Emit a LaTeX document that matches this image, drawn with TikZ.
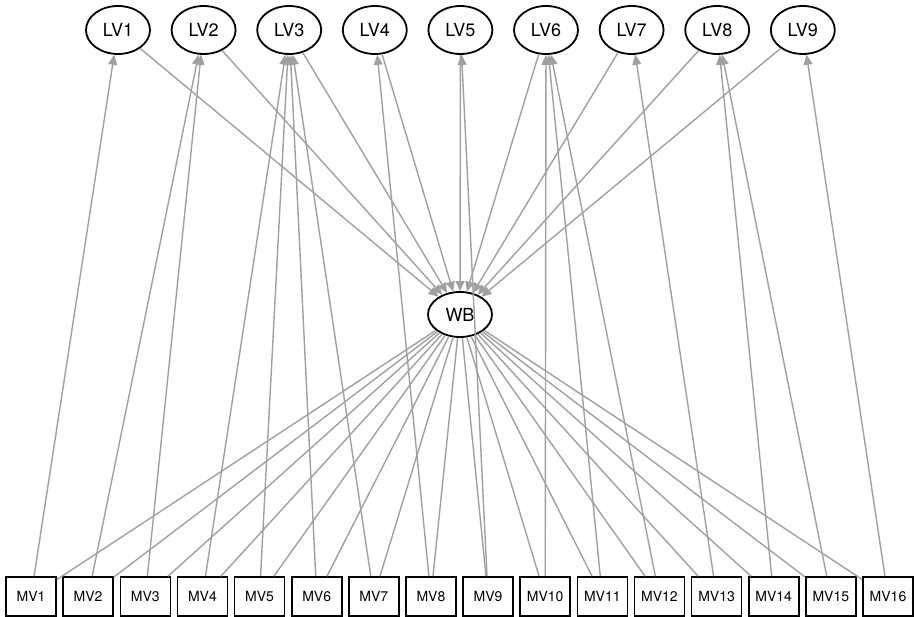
\documentclass[tikz,border=0pt]{standalone}
\usepackage{fontspec}
\setmainfont{TeX Gyre Heros}
\usetikzlibrary{shapes.geometric}
\usetikzlibrary{arrows.meta}

\definecolor{pathgray}{RGB}{160,160,160}

\tikzset{
  latent/.style={ellipse,draw=black,line width=1.8pt,fill=white,minimum width=64pt,minimum height=48pt,inner sep=0pt,font=\fontsize{18}{18}\selectfont},
  manifest/.style={rectangle,draw=black,line width=1.6pt,fill=white,minimum width=50pt,minimum height=39pt,inner sep=0pt,font=\fontsize{14}{14}\selectfont},
  load/.style={draw=pathgray,line width=1.4pt,-{Triangle[length=10pt,width=9pt]}},
  link/.style={draw=pathgray,line width=1.4pt}
}

\begin{document}
\begin{tikzpicture}[x=1pt,y=-1pt]

\useasboundingbox (0,0) rectangle (916,617);

% Latent variables
\node[latent] (lv1) at (118,30) {LV1};
\node[latent] (lv2) at (203.6,30) {LV2};
\node[latent] (lv3) at (289.2,30) {LV3};
\node[latent] (lv4) at (374.8,30) {LV4};
\node[latent] (lv5) at (460.4,30) {LV5};
\node[latent] (lv6) at (546,30) {LV6};
\node[latent] (lv7) at (631.6,30) {LV7};
\node[latent] (lv8) at (717.2,30) {LV8};
\node[latent] (lv9) at (802.8,30) {LV9};

% Well-being
\node[latent,minimum height=45pt] (wb) at (460,314.5) {WB};

% Manifest variables
\node[manifest] (mv1) at (31,596.5) {MV1};
\node[manifest] (mv2) at (88.1,596.5) {MV2};
\node[manifest] (mv3) at (145.3,596.5) {MV3};
\node[manifest] (mv4) at (202.4,596.5) {MV4};
\node[manifest] (mv5) at (259.5,596.5) {MV5};
\node[manifest] (mv6) at (316.7,596.5) {MV6};
\node[manifest] (mv7) at (373.8,596.5) {MV7};
\node[manifest] (mv8) at (430.9,596.5) {MV8};
\node[manifest] (mv9) at (488,596.5) {MV9};
\node[manifest] (mv10) at (545.2,596.5) {MV10};
\node[manifest] (mv11) at (602.3,596.5) {MV11};
\node[manifest] (mv12) at (659.4,596.5) {MV12};
\node[manifest] (mv13) at (716.6,596.5) {MV13};
\node[manifest] (mv14) at (773.7,596.5) {MV14};
\node[manifest] (mv15) at (830.8,596.5) {MV15};
\node[manifest] (mv16) at (888,596.5) {MV16};

% Loadings
\draw[load] (mv1) -- (lv1);
\draw[load] (mv2) -- (lv2);
\draw[load] (mv3) -- (lv2);
\draw[load] (mv4) -- (lv3);
\draw[load] (mv5) -- (lv3);
\draw[load] (mv6) -- (lv3);
\draw[load] (mv7) -- (lv3);
\draw[load] (mv8) -- (lv4);
\draw[load] (mv9) -- (lv5);
\draw[load] (mv10) -- (lv6);
\draw[load] (mv11) -- (lv6);
\draw[load] (mv12) -- (lv6);
\draw[load] (mv13) -- (lv7);
\draw[load] (mv14) -- (lv8);
\draw[load] (mv15) -- (lv8);
\draw[load] (mv16) -- (lv9);

% Paths to WB
\draw[load] (lv1) -- (wb);
\draw[load] (lv2) -- (wb);
\draw[load] (lv3) -- (wb);
\draw[load] (lv4) -- (wb);
\draw[load] (lv5) -- (wb);
\draw[load] (lv6) -- (wb);
\draw[load] (lv7) -- (wb);
\draw[load] (lv8) -- (wb);
\draw[load] (lv9) -- (wb);

% Links from WB
\draw[link] (wb) -- (mv1);
\draw[link] (wb) -- (mv2);
\draw[link] (wb) -- (mv3);
\draw[link] (wb) -- (mv4);
\draw[link] (wb) -- (mv5);
\draw[link] (wb) -- (mv6);
\draw[link] (wb) -- (mv7);
\draw[link] (wb) -- (mv8);
\draw[link] (wb) -- (mv9);
\draw[link] (wb) -- (mv10);
\draw[link] (wb) -- (mv11);
\draw[link] (wb) -- (mv12);
\draw[link] (wb) -- (mv13);
\draw[link] (wb) -- (mv14);
\draw[link] (wb) -- (mv15);
\draw[link] (wb) -- (mv16);

\end{tikzpicture}
\end{document}
